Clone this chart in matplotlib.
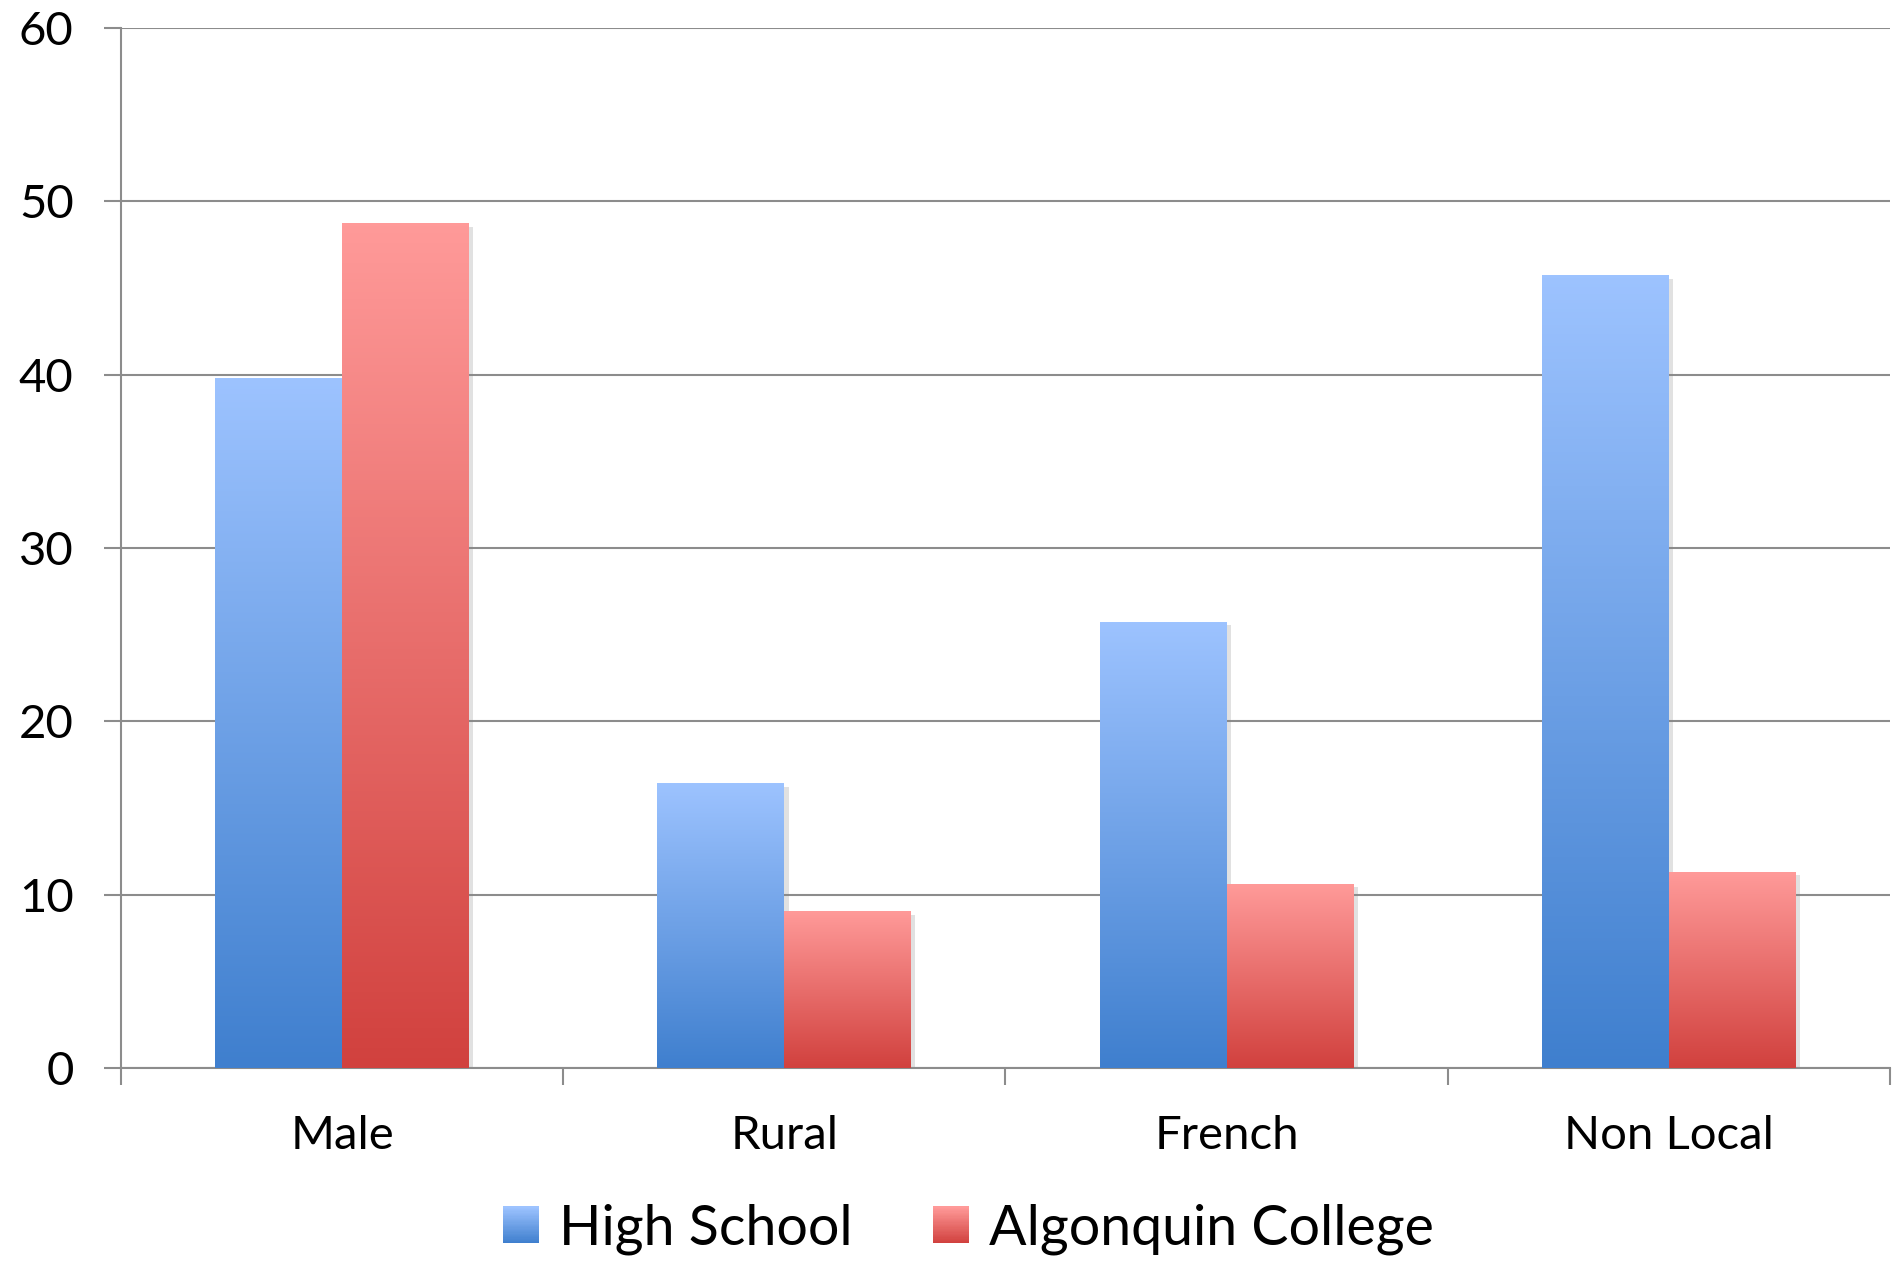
import matplotlib
matplotlib.use("Agg")
import matplotlib.pyplot as plt
import matplotlib.patheffects as pe
from matplotlib.colors import LinearSegmentedColormap
from matplotlib.legend_handler import HandlerBase
from matplotlib.patches import Rectangle
import numpy as np

# datos
categories = ["Male", "Rural", "French", "Non Local"]
high_school = [39.8, 16.4, 25.7, 45.7]
algonquin = [48.7, 9.0, 10.6, 11.3]
series_names = ["High School", "Algonquin College"]

plt.rcParams['font.family'] = ['Lato', 'DejaVu Sans']

blue_cmap = LinearSegmentedColormap.from_list("blue", ["#3f7fce", "#9dc3ff"])
red_cmap = LinearSegmentedColormap.from_list("red", ["#d1413e", "#ff9a99"])


class GradientHandler(HandlerBase):
    def __init__(self, cmap):
        super().__init__()
        self.cmap = cmap

    def create_artists(self, legend, orig_handle, xdescent, ydescent,
                       width, height, fontsize, trans):
        n = 30
        arts = []
        for i in range(n):
            r = Rectangle((-xdescent, -ydescent + i * height / n), width,
                          height / n + 0.3, facecolor=self.cmap(i / (n - 1)),
                          edgecolor='none', transform=trans)
            arts.append(r)
        return arts


fig = plt.figure(figsize=(18.95, 12.62), dpi=100)
ax = fig.add_axes([0.0638, 0.1537, 0.9336, 0.8241])

x = np.arange(len(categories))
w = 0.287
grad = np.linspace(0, 1, 256).reshape(-1, 1)

for vals, off, cmap in [(high_school, -w / 2, blue_cmap), (algonquin, w / 2, red_cmap)]:
    bars = ax.bar(x + off, vals, w, color='white', zorder=2)
    for b in bars:
        b.set_path_effects([pe.SimplePatchShadow(offset=(3, -2), shadow_rgbFace='#888888', alpha=0.25),
                            pe.Normal()])
        bx, by = b.get_x(), b.get_y()
        ax.imshow(grad, extent=[bx, bx + b.get_width(), by, by + b.get_height()],
                  origin='lower', aspect='auto', cmap=cmap, zorder=3)

ax.set_xlim(-0.5, len(categories) - 0.5)
ax.set_ylim(0, 60)

ax.set_yticks(np.arange(0, 61, 10))
ax.yaxis.grid(True, color='#8c8c8c', linewidth=1.5, zorder=0)
ax.set_axisbelow(True)
ax.tick_params(axis='y', length=12, width=1.5, color='#8c8c8c', pad=22, labelsize=34)

ax.set_xticks(np.arange(-0.5, len(categories), 1))
ax.set_xticklabels([])
ax.set_xticks(x, minor=True)
ax.set_xticklabels(categories, minor=True)
ax.tick_params(axis='x', which='major', length=12, width=1.5, color='#8c8c8c')
ax.tick_params(axis='x', which='minor', length=0, pad=34, labelsize=34)

for s in ['top', 'right']:
    ax.spines[s].set_visible(False)
for s in ['left', 'bottom']:
    ax.spines[s].set_color('#8c8c8c')
    ax.spines[s].set_linewidth(1.5)

h1 = Rectangle((0, 0), 1, 1)
h2 = Rectangle((0, 0), 1, 1)
fig.legend([h1, h2], series_names, loc='center', bbox_to_anchor=(0.511, 0.026),
           ncol=2, frameon=False, fontsize=40, handlelength=0.65, handleheight=0.65,
           handletextpad=0.35, columnspacing=1.45,
           handler_map={h1: GradientHandler(blue_cmap), h2: GradientHandler(red_cmap)})

fig.savefig("out.png", dpi=100)
